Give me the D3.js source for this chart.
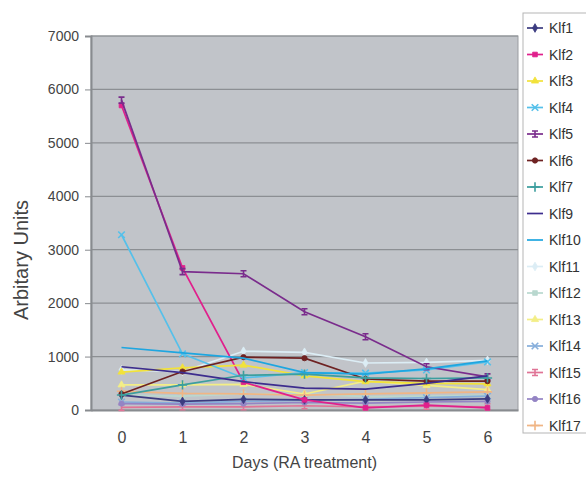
<!DOCTYPE html>
<html>
<head>
<meta charset="utf-8">
<script src="https://cdn.jsdelivr.net/npm/d3@7"></script>
<style>
  body { margin: 0; background: #fff; }
  text { font-family: "Liberation Sans", Arial, sans-serif; }
</style>
</head>
<body>
<div class="chart"></div>
<script>
var width = 586
var height = 481

var days = ['0', '1', '2', '3', '4', '5', '6']
var yTicks = [0, 1000, 2000, 3000, 4000, 5000, 6000, 7000]
var names = ['Klf1', 'Klf2', 'Klf3', 'Klf4', 'Klf5', 'Klf6', 'Klf7', 'Klf9', 'Klf10',
             'Klf11', 'Klf12', 'Klf13', 'Klf14', 'Klf15', 'Klf16', 'Klf17']

var klf1 = [280, 160, 200, 190, 190, 190, 210]
var klf2 = [5700, 2660, 520, 190, 40, 90, 40]
var klf3 = [710, 790, 840, 640, 530, 500, 490]
var klf4 = [3280, 1050, 600, 700, 690, 750, 900]
var klf5 = [5800, 2590, 2550, 1840, 1370, 810, 620]
var klf6 = [300, 720, 990, 970, 580, 540, 540]
var klf7 = [280, 470, 650, 670, 600, 590, 600]
var klf9 = [810, 700, 530, 410, 390, 500, 640]
var klf10 = [1170, 1070, 970, 700, 670, 770, 920]
var klf11 = [750, 720, 1100, 1080, 880, 890, 930]
var klf12 = [280, 260, 300, 300, 250, 260, 280]
var klf13 = [470, 470, 480, 300, 540, 460, 380]
var klf14 = [150, 130, 160, 180, 200, 230, 260]
var klf15 = [50, 60, 60, 80, 60, 70, 60]
var klf16 = [120, 110, 120, 140, 130, 150, 160]
var klf17 = [350, 310, 300, 280, 300, 320, 340]

var colors = ['#3b3b80', '#e0208c', '#f2e23a', '#55c0ea', '#7a2c8c', '#6e2222', '#3c9e9e', '#3d2d8e',
              '#1ea6e0', '#dcedf5', '#b9d8cf', '#f3ee86', '#86aedb', '#e07496', '#9484c4', '#f0b584']
var markers = ['diamond', 'square', 'triangle', 'times', 'bar', 'circle', 'plus', 'none', 'none',
               'diamond', 'square', 'triangle', 'times', 'bar', 'circle', 'plus']

var series = [klf1, klf2, klf3, klf4, klf5, klf6, klf7, klf9, klf10,
              klf11, klf12, klf13, klf14, klf15, klf16, klf17].map(function (v, i) {
    return { name: names[i], values: v, color: colors[i], marker: markers[i] }
})

var svg = d3.select('.chart').append('svg')
    .attr('width', width)
    .attr('height', height)

var plotLeft = 91, plotRight = 518, plotTop = 36, plotBottom = 410

var x = d3.scalePoint().domain(days).range([plotLeft, plotRight]).padding(0.5)
var y = d3.scaleLinear().domain([0, 7000]).range([plotBottom, plotTop])

// plot background
svg.append('rect')
    .attr('x', plotLeft).attr('y', plotTop)
    .attr('width', plotRight - plotLeft).attr('height', plotBottom - plotTop)
    .attr('fill', '#c1c4c9')
    .attr('stroke', '#9a9da1')

// gridlines
svg.append('g')
    .selectAll('line')
    .data(yTicks.slice(1))
    .enter().append('line')
    .attr('x1', plotLeft).attr('x2', plotRight)
    .attr('y1', function (d) { return y(d) }).attr('y2', function (d) { return y(d) })
    .attr('stroke', '#8c8f93')
    .attr('stroke-width', 1.2)

// y axis
var yAxis = svg.append('g')
    .attr('transform', 'translate(' + plotLeft + ',0)')
    .call(d3.axisLeft(y).tickValues(yTicks).tickSize(6).tickPadding(6).tickFormat(d3.format('d')))
yAxis.select('.domain').attr('stroke', '#888b8f').attr('stroke-width', 2)
yAxis.selectAll('.tick line').attr('stroke', '#888b8f')
yAxis.selectAll('text').attr('font-size', 14).attr('fill', '#444')

// x axis
var xAxis = svg.append('g')
    .attr('transform', 'translate(0,' + plotBottom + ')')
    .call(d3.axisBottom(x).tickSize(0).tickPadding(22))
xAxis.select('.domain').attr('stroke', '#888b8f').attr('stroke-width', 2)
xAxis.selectAll('text').attr('font-size', 16).attr('fill', '#444')

svg.append('text')
    .attr('x', (plotLeft + plotRight) / 2)
    .attr('y', 468)
    .attr('text-anchor', 'middle')
    .attr('font-size', 16)
    .attr('fill', '#444')
    .text('Days (RA treatment)')

svg.append('text')
    .attr('transform', 'translate(28,260) rotate(-90)')
    .attr('text-anchor', 'middle')
    .attr('font-size', 20)
    .attr('fill', '#444')
    .text('Arbitary Units')

function markerPath(type) {
    var s = {
        diamond: d3.symbolDiamond, square: d3.symbolSquare, triangle: d3.symbolTriangle,
        times: d3.symbolTimes || d3.symbolCross, circle: d3.symbolCircle,
        plus: d3.symbolPlus || d3.symbolCross
    }
    if (type === 'bar') return 'M-3,-3H3M-3,3H3M0,-3V3'
    if (type === 'none') return ''
    return d3.symbol().type(s[type]).size(type === 'times' || type === 'plus' ? 30 : 22)()
}

function isStroked(type) { return type === 'times' || type === 'plus' || type === 'bar' }

var line = d3.line()
    .x(function (d, i) { return x(days[i]) })
    .y(function (d) { return y(d) })

// draw pale series first so the strong ones sit on top
var order = series.slice(9).concat(series.slice(0, 9))

order.forEach(function (s) {
    var g = svg.append('g')
    g.append('path')
        .datum(s.values)
        .attr('d', line)
        .attr('fill', 'none')
        .attr('stroke', s.color)
        .attr('stroke-width', 1.7)
    g.selectAll('path.m')
        .data(s.values)
        .enter().append('path')
        .attr('class', 'm')
        .attr('transform', function (d, i) { return 'translate(' + x(days[i]) + ',' + y(d) + ')' })
        .attr('d', markerPath(s.marker))
        .attr('fill', isStroked(s.marker) ? 'none' : s.color)
        .attr('stroke', s.color)
        .attr('stroke-width', isStroked(s.marker) ? 1.6 : 0.8)
})

// legend
var legend = svg.append('g')
legend.append('rect')
    .attr('x', 523).attr('y', 13)
    .attr('width', 70).attr('height', 420)
    .attr('fill', '#fff')
    .attr('stroke', '#b5b5b5')

var items = legend.selectAll('g.item')
    .data(series)
    .enter().append('g')
    .attr('class', 'item')
    .attr('transform', function (d, i) { return 'translate(0,' + (28 + i * 26.5) + ')' })

items.append('line')
    .attr('x1', 527).attr('x2', 543)
    .attr('stroke', function (d) { return d.color })
    .attr('stroke-width', 1.7)
items.append('path')
    .attr('transform', 'translate(535,0)')
    .attr('d', function (d) { return markerPath(d.marker) })
    .attr('fill', function (d) { return isStroked(d.marker) ? 'none' : d.color })
    .attr('stroke', function (d) { return d.color })
    .attr('stroke-width', function (d) { return isStroked(d.marker) ? 1.6 : 0.8 })
items.append('text')
    .attr('x', 549)
    .attr('y', 5)
    .attr('font-size', 14)
    .attr('fill', '#333')
    .text(function (d) { return d.name })
</script>
</body>
</html>
